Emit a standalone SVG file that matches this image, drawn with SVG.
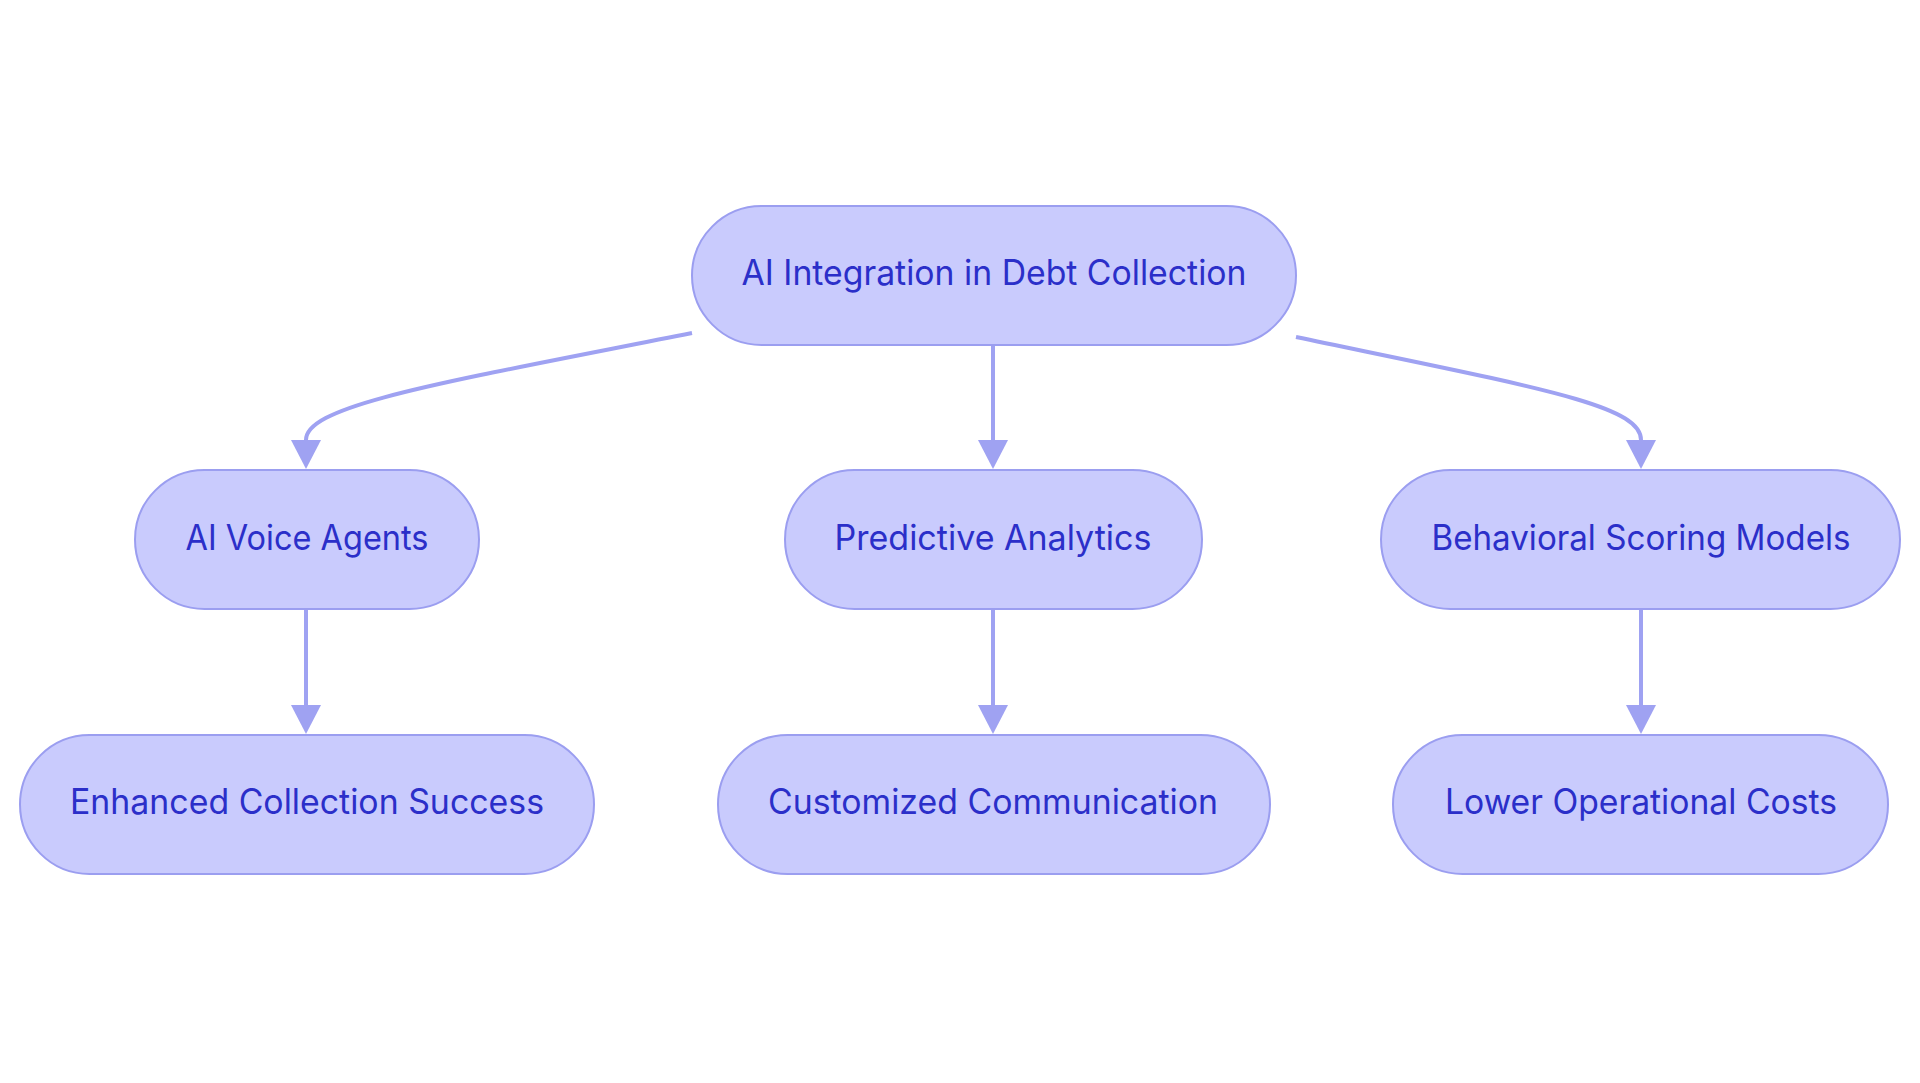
<svg xmlns="http://www.w3.org/2000/svg" width="1920" height="1083" viewBox="0 0 1920 1083">
<style>
.node rect{fill:#c9cbfd;stroke:#9b9ef0;stroke-width:2}
.node text{font-family:Inter,"Noto Sans",sans-serif;font-size:35px;fill:#2b2fc9;text-anchor:middle}
.edge{fill:none;stroke:#9fa2f2;stroke-width:4}
</style>
<defs>
<marker id="arr" markerUnits="userSpaceOnUse" markerWidth="30" markerHeight="30" viewBox="0 0 30 30" refX="0" refY="15" orient="auto">
<path d="M0,0 L29,15 L0,30 Z" fill="#9fa2f2"/>
</marker>
</defs>
<rect width="1920" height="1083" fill="#ffffff"/>
<g id="connectors">
<path class="edge" d="M692,333 C440,383 306,405 306,440" marker-end="url(#arr)"/>
<path class="edge" d="M993,345 L993,440" marker-end="url(#arr)"/>
<path class="edge" d="M1296,337 C1540,388 1641,405 1641,440" marker-end="url(#arr)"/>
<path class="edge" d="M306,610 L306,705" marker-end="url(#arr)"/>
<path class="edge" d="M993,610 L993,705" marker-end="url(#arr)"/>
<path class="edge" d="M1641,610 L1641,705" marker-end="url(#arr)"/>
</g>
<g id="root" class="node"><rect x="692" y="206" width="604" height="139" rx="69.5"/><text x="994" y="285" textLength="505" lengthAdjust="spacingAndGlyphs">AI Integration in Debt Collection</text></g>
<g id="voice" class="node"><rect x="135" y="470" width="344" height="139" rx="69.5"/><text x="307" y="550" textLength="243" lengthAdjust="spacingAndGlyphs">AI Voice Agents</text></g>
<g id="predictive" class="node"><rect x="785" y="470" width="417" height="139" rx="69.5"/><text x="993" y="550" textLength="317" lengthAdjust="spacingAndGlyphs">Predictive Analytics</text></g>
<g id="behavioral" class="node"><rect x="1381" y="470" width="519" height="139" rx="69.5"/><text x="1641" y="550" textLength="419" lengthAdjust="spacingAndGlyphs">Behavioral Scoring Models</text></g>
<g id="enhanced" class="node"><rect x="20" y="735" width="574" height="139" rx="69.5"/><text x="307" y="814" textLength="474" lengthAdjust="spacingAndGlyphs">Enhanced Collection Success</text></g>
<g id="customized" class="node"><rect x="718" y="735" width="552" height="139" rx="69.5"/><text x="993" y="814" textLength="450" lengthAdjust="spacingAndGlyphs">Customized Communication</text></g>
<g id="lower" class="node"><rect x="1393" y="735" width="495" height="139" rx="69.5"/><text x="1641" y="814" textLength="392" lengthAdjust="spacingAndGlyphs">Lower Operational Costs</text></g>
</svg>
